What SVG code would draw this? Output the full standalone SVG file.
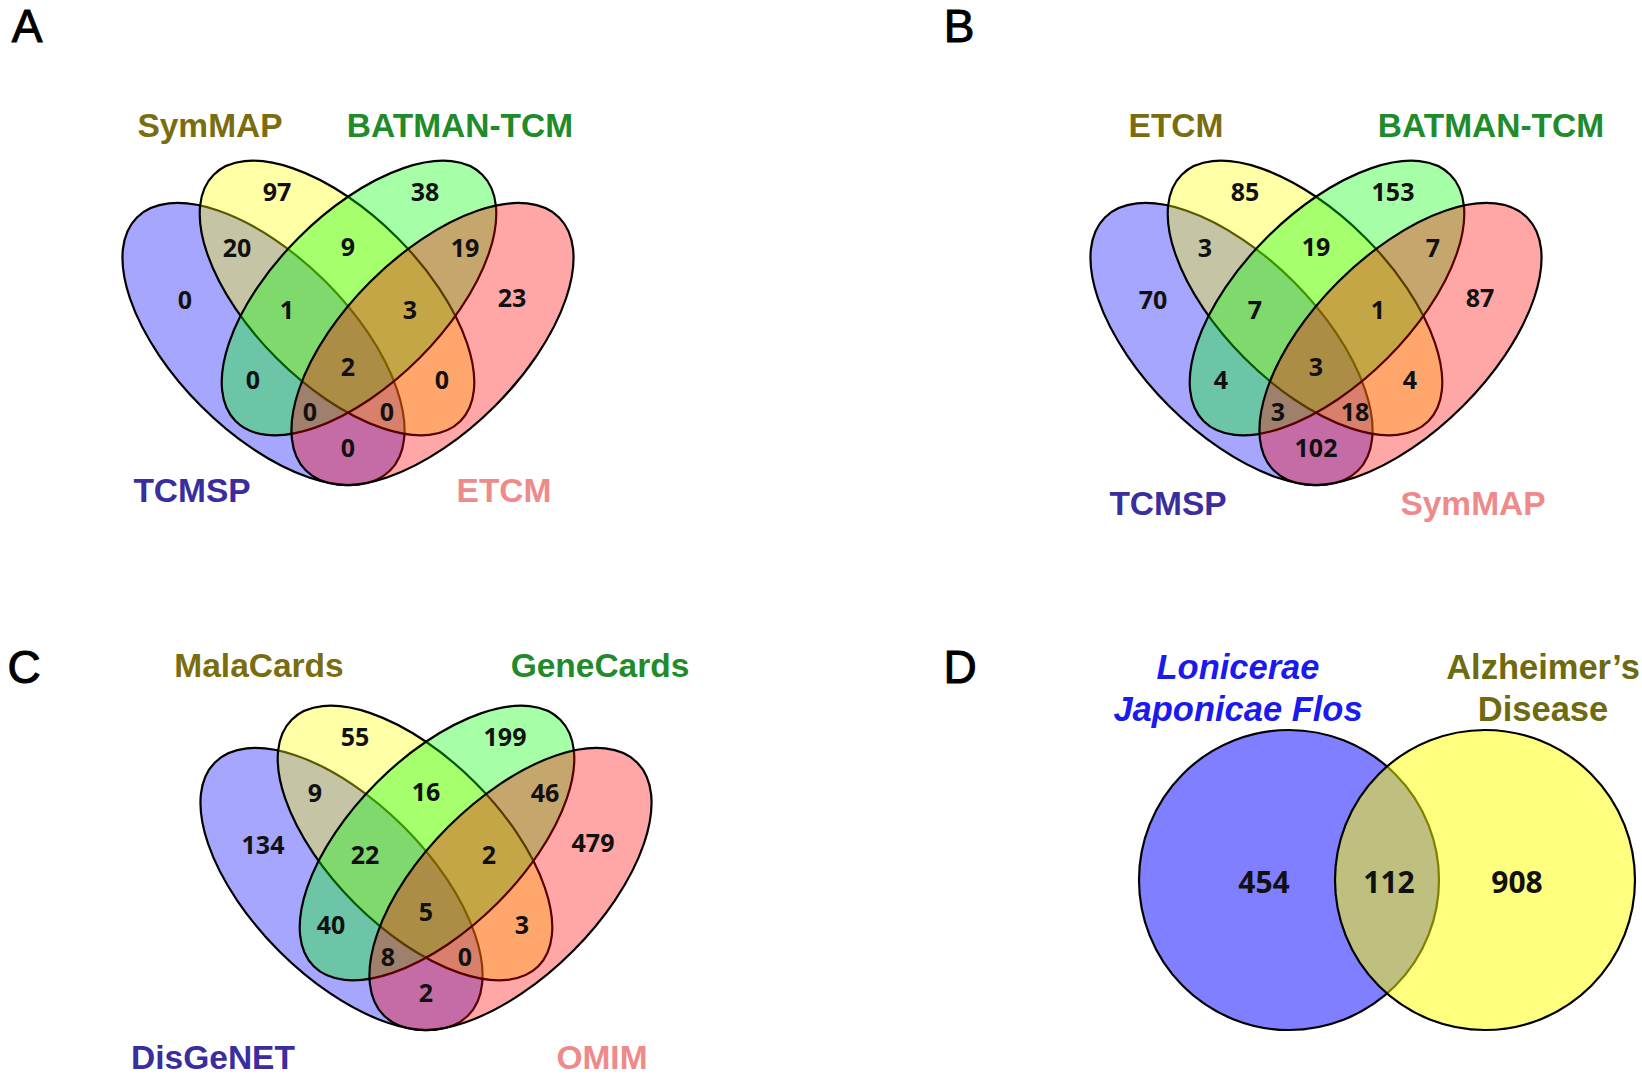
<svg xmlns="http://www.w3.org/2000/svg" xmlns:xlink="http://www.w3.org/1999/xlink" width="1642" height="1076" viewBox="0 0 1642 1076">
<style>
.ell{stroke:#000;stroke-width:2.2;fill-opacity:0.35}
.sb{fill:#0000ff}.sy{fill:#ffff00}.sg{fill:#00ff00}.sr{fill:#ff0000}
.num{font-family:"Open Sans","DejaVu Sans",sans-serif;font-weight:bold;font-size:25px;fill:#111;text-anchor:middle}
.numD{font-family:"Open Sans","DejaVu Sans",sans-serif;font-weight:bold;font-size:30px;fill:#111;text-anchor:middle}
.cat{font-family:"Liberation Sans",Arial,sans-serif;font-weight:bold;font-size:33.5px;text-anchor:middle}
.catD{font-family:"Liberation Sans",Arial,sans-serif;font-weight:bold;font-size:34.5px;text-anchor:middle}
.letter{font-family:"Liberation Sans",Arial,sans-serif;font-size:46px;fill:#000;stroke:#000;stroke-width:1;text-anchor:middle}
.olive{fill:#7a6d10}.green{fill:#1f8b2b}.violet{fill:#3a2d9e}.coral{fill:#ef8a8a}
.circ{stroke:#000;stroke-width:2.2;fill-opacity:0.5}
</style>
<defs>
<ellipse id="e1" cx="263.5" cy="344" rx="179" ry="88" transform="rotate(45 263.5 344)"/>
<ellipse id="e2" cx="337" cy="298" rx="174.4" ry="85.3" transform="rotate(45 337 298)"/>
<ellipse id="e3" cx="359" cy="298" rx="174.4" ry="85.3" transform="rotate(-45 359 298)"/>
<ellipse id="e4" cx="432.5" cy="344" rx="179" ry="88" transform="rotate(-45 432.5 344)"/>
</defs>
<rect x="0" y="0" width="1642" height="1076" fill="#fff"/>

<g id="labels">
<text class="letter" x="27" y="42">A</text>
<text class="letter" x="959" y="42">B</text>
<text class="letter" x="24" y="683">C</text>
<text class="letter" x="960" y="683">D</text>
</g>

<g id="panelA">
<g id="A-TCMSP"><use xlink:href="#e1" class="ell sb"/></g>
<g id="A-SymMAP"><use xlink:href="#e2" class="ell sy"/></g>
<g id="A-BATMAN"><use xlink:href="#e3" class="ell sg"/></g>
<g id="A-ETCM"><use xlink:href="#e4" class="ell sr"/></g>
<text class="cat olive" x="210" y="137">SymMAP</text>
<text class="cat green" x="460" y="137">BATMAN-TCM</text>
<text class="cat violet" x="192" y="502">TCMSP</text>
<text class="cat coral" x="504" y="502">ETCM</text>
<g id="A-counts">
<text class="num" x="277" y="201">97</text>
<text class="num" x="425" y="201">38</text>
<text class="num" x="237" y="257">20</text>
<text class="num" x="348" y="256">9</text>
<text class="num" x="465" y="257">19</text>
<text class="num" x="185" y="309">0</text>
<text class="num" x="287" y="319">1</text>
<text class="num" x="410" y="319">3</text>
<text class="num" x="512" y="307">23</text>
<text class="num" x="348" y="376">2</text>
<text class="num" x="253" y="389">0</text>
<text class="num" x="442" y="389">0</text>
<text class="num" x="310" y="421">0</text>
<text class="num" x="387" y="421">0</text>
<text class="num" x="348" y="457">0</text>
</g>
</g>

<g id="panelB">
<g transform="translate(968,0)">
<g id="B-TCMSP"><use xlink:href="#e1" class="ell sb"/></g>
<g id="B-ETCM"><use xlink:href="#e2" class="ell sy"/></g>
<g id="B-BATMAN"><use xlink:href="#e3" class="ell sg"/></g>
<g id="B-SymMAP"><use xlink:href="#e4" class="ell sr"/></g>
<g id="B-counts">
<text class="num" x="277" y="201">85</text>
<text class="num" x="425" y="201">153</text>
<text class="num" x="237" y="257">3</text>
<text class="num" x="348" y="256">19</text>
<text class="num" x="465" y="257">7</text>
<text class="num" x="185" y="309">70</text>
<text class="num" x="287" y="319">7</text>
<text class="num" x="410" y="319">1</text>
<text class="num" x="512" y="307">87</text>
<text class="num" x="348" y="376">3</text>
<text class="num" x="253" y="389">4</text>
<text class="num" x="442" y="389">4</text>
<text class="num" x="310" y="421">3</text>
<text class="num" x="387" y="421">18</text>
<text class="num" x="348" y="457">102</text>
</g>
</g>
<text class="cat olive" x="1176" y="137">ETCM</text>
<text class="cat green" x="1491" y="137">BATMAN-TCM</text>
<text class="cat violet" x="1168" y="515">TCMSP</text>
<text class="cat coral" x="1473" y="515">SymMAP</text>
</g>

<g id="panelC">
<g transform="translate(78,545)">
<g id="C-DisGeNET"><use xlink:href="#e1" class="ell sb"/></g>
<g id="C-MalaCards"><use xlink:href="#e2" class="ell sy"/></g>
<g id="C-GeneCards"><use xlink:href="#e3" class="ell sg"/></g>
<g id="C-OMIM"><use xlink:href="#e4" class="ell sr"/></g>
<g id="C-counts">
<text class="num" x="277" y="201">55</text>
<text class="num" x="427" y="201">199</text>
<text class="num" x="237" y="257">9</text>
<text class="num" x="348" y="256">16</text>
<text class="num" x="467" y="257">46</text>
<text class="num" x="185" y="309">134</text>
<text class="num" x="287" y="319">22</text>
<text class="num" x="411" y="319">2</text>
<text class="num" x="515" y="307">479</text>
<text class="num" x="348" y="376">5</text>
<text class="num" x="253" y="389">40</text>
<text class="num" x="444" y="389">3</text>
<text class="num" x="310" y="421">8</text>
<text class="num" x="387" y="421">0</text>
<text class="num" x="348" y="457">2</text>
</g>
</g>
<text class="cat olive" x="259" y="677">MalaCards</text>
<text class="cat green" x="600" y="677">GeneCards</text>
<text class="cat violet" x="213" y="1069">DisGeNET</text>
<text class="cat coral" x="602" y="1069">OMIM</text>
</g>

<g id="panelD">
<g id="D-LJF"><circle cx="1289" cy="880" r="150" class="circ" fill="#0000ff"/>
<text class="catD" x="1238" y="679" fill="#1a1aee" font-style="italic">Lonicerae</text>
<text class="catD" x="1238" y="721" fill="#1a1aee" font-style="italic">Japonicae Flos</text>
</g>
<g id="D-AD"><circle cx="1485" cy="880" r="150" class="circ" fill="#ffff00"/>
<text class="catD" x="1543" y="679" fill="#6e6a10">Alzheimer’s</text>
<text class="catD" x="1543" y="721" fill="#6e6a10">Disease</text>
</g>
<text class="numD" x="1264" y="893">454</text>
<text class="numD" x="1389" y="893">112</text>
<text class="numD" x="1517" y="893">908</text>
</g>
</svg>
